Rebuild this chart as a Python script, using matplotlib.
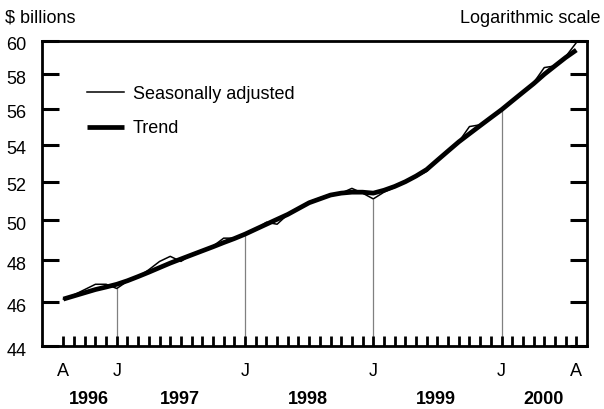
import numpy as np
import pandas as pd
import matplotlib
matplotlib.use("Agg")
import matplotlib.pyplot as plt
import matplotlib.transforms as mtransforms
from matplotlib.ticker import FixedLocator, NullLocator

plt.rcParams['font.family'] = ['Liberation Sans', 'DejaVu Sans']

# monthly, Aug 1996 .. Aug 2000 ($ billions)
months = pd.date_range("1996-08-01", "2000-08-01", freq="MS")

seasonally_adjusted = [
    46.15, 46.35, 46.6, 46.85, 46.85, 46.65, 47.0, 47.2, 47.55, 47.95,
    48.2, 47.95, 48.3, 48.5, 48.7, 49.1, 49.1, 49.3, 49.55, 49.9,
    49.8, 50.3, 50.6, 50.95, 51.15, 51.35, 51.4, 51.65, 51.4, 51.1,
    51.45, 51.7, 52.0, 52.25, 52.55, 53.15, 53.65, 54.15, 55.0, 55.1,
    55.5, 55.95, 56.45, 56.95, 57.5, 58.4, 58.5, 59.05, 59.9,
]
trend = [
    46.15, 46.3, 46.45, 46.6, 46.72, 46.85, 47.02, 47.22, 47.43, 47.65,
    47.87, 48.07, 48.27, 48.47, 48.67, 48.88, 49.08, 49.3, 49.55, 49.8,
    50.05, 50.3, 50.6, 50.9, 51.1, 51.3, 51.4, 51.45, 51.45, 51.4,
    51.55, 51.75, 52.0, 52.3, 52.65, 53.15, 53.65, 54.15, 54.6, 55.05,
    55.5, 55.95, 56.45, 56.95, 57.45, 58.0, 58.5, 59.0, 59.45,
]
y_ticks = [44, 46, 48, 50, 52, 54, 56, 58, 60]
years = [1996, 1997, 1998, 1999, 2000]

x = np.arange(len(months))
sa = np.array(seasonally_adjusted)
tr = np.array(trend)

fig = plt.figure(figsize=(6.04, 4.09), dpi=100)
ax = fig.add_axes([42 / 604, 1 - 346 / 409, 545 / 604, 305 / 409])

ax.set_yscale("log")
ax.set_ylim(44, 60)
ax.set_xlim(-2, len(months))

# january marker lines, from the floor up to the series
jan = x[months.month == 1]
ax.vlines(jan, 44, sa[jan], color="#808080", lw=0.9, zorder=1)

ax.plot(x, sa, color="black", lw=1.1, label="Seasonally adjusted", zorder=3)
ax.plot(x, tr, color="black", lw=3.4, label="Trend", zorder=2,
        solid_capstyle="butt", solid_joinstyle="round")

ax.yaxis.set_major_locator(FixedLocator(y_ticks))
ax.yaxis.set_minor_locator(NullLocator())
ax.set_yticklabels([str(v) for v in y_ticks])

lab_idx = [0] + list(jan) + [len(months) - 1]
ax.set_xticks(lab_idx)
ax.set_xticklabels([months[i].strftime("%b")[0] for i in lab_idx])
ax.set_xticks(x, minor=True)

for s in ax.spines.values():
    s.set_linewidth(2.0)
ax.tick_params(axis="y", which="major", direction="in", length=12, width=2.2,
               labelsize=13, pad=11, right=True, labelright=False)
ax.tick_params(axis="x", which="both", direction="in", length=7, width=2.0,
               labelsize=13, pad=12)

# labels sit a little under their ticks in the original
shift = mtransforms.ScaledTranslation(0, -3 / 100, fig.dpi_scale_trans)
for lbl in ax.get_yticklabels():
    lbl.set_transform(lbl.get_transform() + shift)

for yr in years:
    idx = x[months.year == yr]
    ax.text(idx.mean() + 0.4, -0.175, str(yr), transform=ax.get_xaxis_transform(),
            ha="center", va="center", fontsize=13, fontweight="bold")

fig.text(5 / 604, 1 - 23 / 409, "$ billions", fontsize=13, va="baseline")
fig.text(600 / 604, 1 - 23 / 409, "Logarithmic scale", fontsize=13,
         va="baseline", ha="right")

ax.legend(loc="upper left", bbox_to_anchor=(0.069, 0.877), frameon=False,
          fontsize=13, handlelength=2.05, handletextpad=0.48, labelspacing=0.95,
          borderaxespad=0)

fig.savefig("out.png", dpi=100)
